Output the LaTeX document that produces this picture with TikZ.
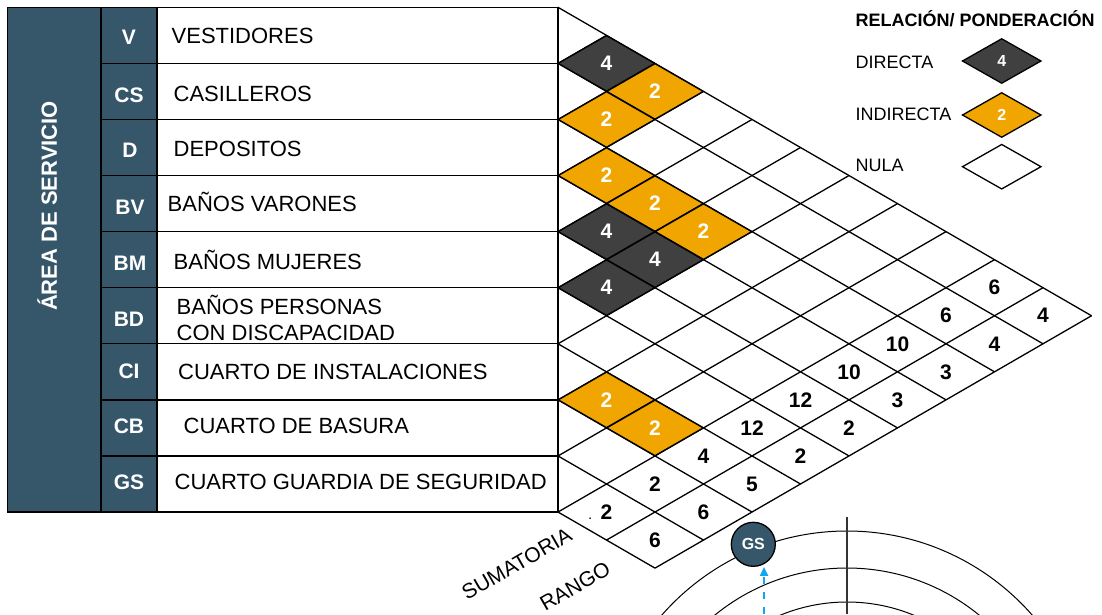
\documentclass[tikz,border=0pt]{standalone}
\usepackage{fontspec}
\setmainfont{Liberation Sans}
\usetikzlibrary{shapes.geometric,arrows.meta}
\definecolor{slate}{HTML}{36566A}
\definecolor{darkcell}{HTML}{404040}
\definecolor{ambercell}{HTML}{F0A500}
\definecolor{flowblue}{HTML}{13A6EE}

\begin{document}
\begin{tikzpicture}[
  x=1pt, y=-1pt, line width=1.3pt,
  tag/.style={text=white, inner sep=0pt, font=\fontsize{21}{24}\selectfont\bfseries},
  room/.style={anchor=base west, inner sep=0pt, align=left, font=\fontsize{22}{26}\selectfont},
  rel/.style={diamond, draw, inner sep=0pt, minimum width=97, minimum height=56.08, font=\fontsize{21}{24}\selectfont\bfseries},
  direct/.style={rel, fill=darkcell, text=white},
  indirect/.style={rel, fill=ambercell, text=white},
  total/.style={inner sep=0pt, font=\fontsize{21}{24}\selectfont\bfseries},
  axislabel/.style={rotate=30, inner sep=0pt, font=\fontsize{21}{24}\selectfont},
  key/.style={diamond, draw, inner sep=0pt, minimum width=79, minimum height=45, text=white, font=\fontsize{16}{18}\selectfont\bfseries},
  keylabel/.style={anchor=base west, inner sep=0pt, font=\fontsize{18}{22}\selectfont},
  flow/.style={draw=flowblue, line width=2.2pt, dash pattern=on 7pt off 8pt, -{Triangle[length=9pt,width=8pt]}},
]
\useasboundingbox (0,0) rectangle (1102,614);
% table
\draw[fill=slate] (7.3,7.3) rectangle (101,512);
\foreach \row in {0,...,8} {
  \draw[fill=slate] (101,7.3+56.08*\row) rectangle (157,63.38+56.08*\row);
  \draw (157,7.3+56.08*\row) rectangle (558,63.38+56.08*\row);
}
\node[tag, rotate=90, font=\fontsize{22}{24}\selectfont\bfseries] (service) at (47.3,206) {ÁREA DE SERVICIO};
\node[tag] (v)  at (129,37)    {V};
\node[tag] (cs) at (129,95.5)  {CS};
\node[tag] (d)  at (130,150.5) {D};
\node[tag] (bv) at (130,207)   {BV};
\node[tag] (bm) at (130,263)   {BM};
\node[tag] (bd) at (129,319)   {BD};
\node[tag] (ci) at (129,371)   {CI};
\node[tag] (cb) at (129,426.5) {CB};
\node[tag] (gs) at (129,482.5) {GS};
\node[room] (v-name)  at (171,43)    {VESTIDORES};
\node[room] (cs-name) at (173,101.8) {CASILLEROS};
\node[room] (d-name)  at (173,156.5) {DEPOSITOS};
\node[room] (bv-name) at (167,211.3) {BAÑOS VARONES};
\node[room] (bm-name) at (173,269.5) {BAÑOS MUJERES};
\node[room] (bd-name) at (176,340)   {BAÑOS PERSONAS\\CON DISCAPACIDAD};
\node[room] (ci-name) at (177.5,379.8) {CUARTO DE INSTALACIONES};
\node[room] (cb-name) at (183,433.8) {CUARTO DE BASURA};
\node[room] (gs-name) at (174,489.8) {CUARTO GUARDIA DE SEGURIDAD};
% relation matrix
\begin{scope}[shift={(558pt,20.74pt)}, x={(-48.5pt,-28.04pt)}, y={(48.5pt,-28.04pt)}]
  \foreach \k in {0,...,9}
    \draw (\k+.5,\k+.5) -- (\k+.5,11.5);
  \foreach \m in {1,...,11}
    \draw (.5,\m+.5) -- ({min(\m,9)+.5},\m+.5);
  \node[direct]   (v-cs)  at (1,2) {4};
  \node[indirect] (v-d)   at (1,3) {2};
  \node[indirect] (cs-d)  at (2,3) {2};
  \node[indirect] (d-bv)  at (3,4) {2};
  \node[indirect] (d-bm)  at (3,5) {2};
  \node[indirect] (d-bd)  at (3,6) {2};
  \node[direct]   (bv-bm) at (4,5) {4};
  \node[direct]   (bv-bd) at (4,6) {4};
  \node[direct]   (bm-bd) at (5,6) {4};
  \node[indirect] (ci-cb) at (7,8) {2};
  \node[indirect] (ci-gs) at (7,9) {2};
  % sumatoria
  \node[total] (v-sum)  at (1,10) {6};
  \node[total] (cs-sum) at (2,10) {6};
  \node[total] (d-sum)  at (3,10) {10};
  \node[total] (bv-sum) at (4,10) {10};
  \node[total] (bm-sum) at (5,10) {12};
  \node[total] (bd-sum) at (6,10) {12};
  \node[total] (ci-sum) at (7,10) {4};
  \node[total] (cb-sum) at (8,10) {2};
  \node[total] (gs-sum) at (9,10) {\llap{\fontsize{10}{10}\selectfont.\hspace{9pt}}2};
  % rango
  \node[total] (v-rank)  at (1,11) {4};
  \node[total] (cs-rank) at (2,11) {4};
  \node[total] (d-rank)  at (3,11) {3};
  \node[total] (bv-rank) at (4,11) {3};
  \node[total] (bm-rank) at (5,11) {2};
  \node[total] (bd-rank) at (6,11) {2};
  \node[total] (ci-rank) at (7,11) {5};
  \node[total] (cb-rank) at (8,11) {6};
  \node[total] (gs-rank) at (9,11) {6};
  \node[axislabel] (sumlabel)  at (10.85,10) {SUMATORIA};
  \node[axislabel] (ranklabel) at (10.65,11) {RANGO};
\end{scope}
% Legend
\node[keylabel, font=\fontsize{18}{22}\selectfont\bfseries] (keytitle) at (855,26) {RELACIÓN/ PONDERACIÓN};
\node[keylabel] (keydirect)   at (855,68.3)  {DIRECTA};
\node[keylabel] (keyindirect) at (855,120.7) {INDIRECTA};
\node[keylabel] (keynull)     at (855,171.7) {NULA};
\node[key, fill=darkcell]  (keydirectbox)   at (1001.7,61)    {4};
\node[key, fill=ambercell] (keyindirectbox) at (1001.7,115)   {2};
\node[key, fill=white]     (keynullbox)     at (1001.7,166.7) {};
% rings
\begin{scope}
  \clip (0,0) rectangle (1102,614);
  \foreach \rad in {246,209,175}
    \draw[line width=1pt] (847,777) circle[radius=\rad];
\end{scope}
\draw[line width=1.3pt, black!80] (847,517) -- (847,614);
\node[circle, draw, fill=slate, minimum size=44, inner sep=0pt, text=white, font=\fontsize{16}{18}\selectfont\bfseries] (gsnode) at (753.3,544.3) {GS};
\coordinate (gsfrom) at (764,614);
\draw[flow] (gsfrom) -- (gsfrom |- gsnode.south);
\end{tikzpicture}
\end{document}
